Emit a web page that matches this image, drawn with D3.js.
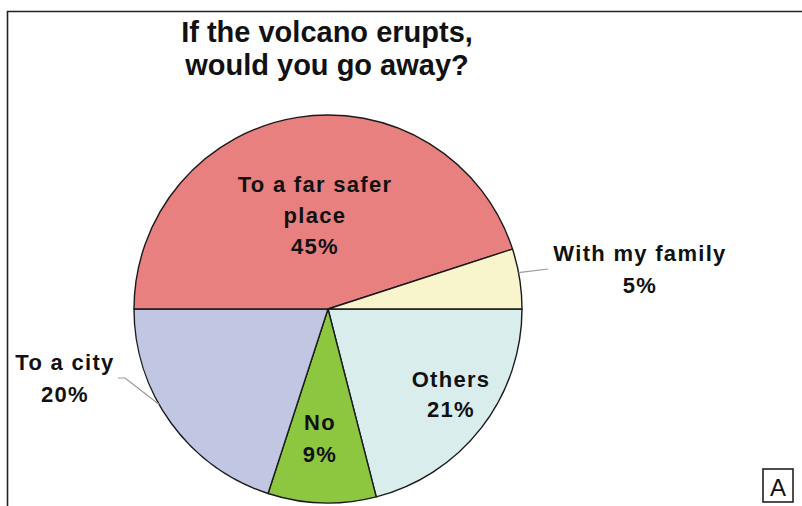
<!DOCTYPE html>
<html><head><meta charset="utf-8">
<script src="https://cdn.jsdelivr.net/npm/d3@7"></script>
<style>body{margin:0;background:#fff}svg{display:block}</style>
</head><body>
<svg id="c" width="802" height="506"></svg>
<script>
const categories = ["Others", "No", "To a city", "To a far safer place", "With my family"];
const values = [21, 9, 20, 45, 5];
const colors = ["#DAEDED", "#8DC63F", "#C1C7E3", "#E98080", "#F8F5CC"];
const titleLines = ["If the volcano erupts,", "would you go away?"];

const svg = d3.select("#c");
const font = "'Liberation Sans', Arial, sans-serif";
// frame
svg.append("path").attr("d","M7.5,520 V11.5 H810").attr("fill","none").attr("stroke","#222").attr("stroke-width",1.6);

const cx = 328, cy = 309, r = 194;
const pie = d3.pie().sort(null).startAngle(Math.PI/2).endAngle(Math.PI/2 + 2*Math.PI);
const arcs = pie(values);
const arc = d3.arc().innerRadius(0).outerRadius(r);
const g = svg.append("g").attr("transform",`translate(${cx},${cy})`);
g.selectAll("path").data(arcs).join("path")
  .attr("d", arc).attr("fill",(d,i)=>colors[i])
  .attr("stroke","#1a1a1a").attr("stroke-width",1.4).attr("stroke-linejoin","round");

// title
svg.append("g").selectAll("text").data(titleLines).join("text")
  .attr("x",327).attr("y",(d,i)=>42+i*33).attr("text-anchor","middle")
  .attr("font-family",font).attr("font-weight","bold").attr("font-size",29).attr("fill","#111")
  .text(d=>d);

// labels
const labelPos = [
  {lines:["Others", "21%"], x:451, y:387, dy:30},
  {lines:["No", "9%"], x:320, y:430, dy:32},
  {lines:["To a city", "20%"], x:65, y:370, dy:32},
  {lines:["To a far safer", "place", "45%"], x:315, y:192, dy:31},
  {lines:["With my family", "5%"], x:640, y:261, dy:32}
];
labelPos.forEach((L,i)=>{
  const lines = L.lines.slice(0, L.lines.length-1).concat([d3.format(".0f")(values[i])+"%"]);
  svg.append("g").selectAll("text").data(lines).join("text")
    .attr("x",L.x).attr("y",(d,j)=>L.y+j*L.dy).attr("text-anchor","middle")
    .attr("font-family",font).attr("font-weight","bold").attr("font-size",22)
    .attr("letter-spacing","1.3px").attr("fill","#111")
    .text(d=>d);
});

// leader lines
const lead = d3.line();
function edgePoint(i, frac){
  const a = arcs[i].startAngle + (arcs[i].endAngle-arcs[i].startAngle)*frac;
  return [cx + r*Math.sin(a), cy - r*Math.cos(a)];
}
svg.append("path").attr("d", lead([edgePoint(4,0.4),[548,269]])).attr("fill","none").attr("stroke","#999").attr("stroke-width",1.2);
svg.append("path").attr("d", lead([[118,378],[125,378],edgePoint(2,0.59)])).attr("fill","none").attr("stroke","#999").attr("stroke-width",1.2);

// "A" box
svg.append("rect").attr("x",763).attr("y",469).attr("width",30).attr("height",33).attr("fill","#fff").attr("stroke","#222").attr("stroke-width",1.6);
svg.append("text").attr("x",778).attr("y",496).attr("text-anchor","middle").attr("font-family",font).attr("font-size",24).attr("fill","#111").text("A");
</script>
</body></html>
